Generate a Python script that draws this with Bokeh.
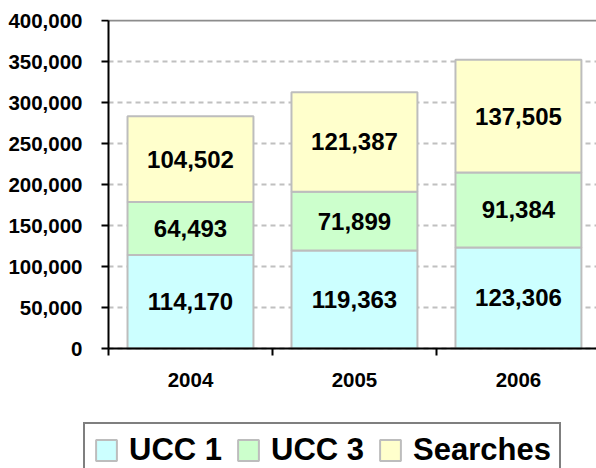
from bokeh.plotting import figure
from bokeh.models import (Range1d, FixedTicker, NumeralTickFormatter, Grid, Legend,
                          LegendItem, ColumnDataSource, LinearAxis)
from bokeh.core.properties import value
from bokeh.embed import file_html
from bokeh.resources import INLINE

# ---- data ----
years = ["2004", "2005", "2006"]
ucc1 = [114170, 119363, 123306]
ucc3 = [64493, 71899, 91384]
searches = [104502, 121387, 137505]
series_names = ["UCC 1", "UCC 3", "Searches"]
colors = ["#CCFFFF", "#CCFFCC", "#FFFFCC"]
y_ticks = [0, 50000, 100000, 150000, 200000, 250000, 300000, 350000, 400000]

FONT = "Liberation Sans"
EDGE = "#BDBDBD"
xpos = [i + 0.5 for i in range(len(years))]
X_END = 2.976
Y_TOP = 400000

# frame covers the canvas down to the bottom so the legend box can be cut off there
p = figure(width=596, height=468, output_backend="svg", toolbar_location=None,
           x_range=Range1d(-0.1524, X_END), y_range=Range1d(-146341, 401220),
           y_axis_location=None,
           min_border_left=83, min_border_right=0, min_border_top=19,
           min_border_bottom=0)
p.outline_line_color = None
p.background_fill_color = "white"
p.border_fill_color = "white"

src = ColumnDataSource(dict(x=xpos, ucc1=ucc1, ucc3=ucc3, searches=searches))
keys = ["ucc1", "ucc3", "searches"]
renderers = p.vbar_stack(keys, x="x", width=0.768, source=src, color=colors,
                         line_color=EDGE, line_width=2)

# data labels at the centre of each segment
lx, ly, lt = [], [], []
for i in range(len(years)):
    base = 0
    for vals in (ucc1, ucc3, searches):
        v = vals[i]
        lx.append(xpos[i]); ly.append(base + v / 2); lt.append(f"{v:,}")
        base += v
p.text(x=lx, y=ly, text=lt, text_align="center", text_baseline="middle",
       text_font=value(FONT), text_font_style="bold", text_font_size="24px",
       text_color="black")

# grid
p.xgrid.visible = False
p.ygrid.ticker = FixedTicker(ticks=y_ticks[:-1])
p.ygrid.grid_line_color = "#C0C0C0"
p.ygrid.grid_line_width = 2
p.ygrid.grid_line_dash = "5 4"
p.ygrid.cross_bounds = (0, X_END)
top_line = Grid(dimension=1, ticker=FixedTicker(ticks=[Y_TOP]), grid_line_color="#8C8C8C",
                grid_line_width=2, cross_bounds=(0, X_END))
p.add_layout(top_line)

# y axis: labels in the left panel, line and ticks at x = 0
ylab = LinearAxis(ticker=FixedTicker(ticks=y_ticks),
                  formatter=NumeralTickFormatter(format="0,0"),
                  axis_line_color=None, major_tick_line_color=None,
                  minor_tick_line_color=None, major_tick_out=0, major_tick_in=0,
                  major_label_standoff=1, major_label_text_font=FONT,
                  major_label_text_font_style="bold", major_label_text_font_size="20.5px",
                  major_label_text_color="black")
p.add_layout(ylab, "left")

yline = LinearAxis(ticker=FixedTicker(ticks=y_ticks), fixed_location=0, bounds=(0, Y_TOP),
                   axis_line_color="black", axis_line_width=2,
                   major_tick_line_color="black", major_tick_line_width=2,
                   major_tick_out=7, major_tick_in=0, minor_tick_line_color=None,
                   major_label_text_font_size="0px", major_label_text_alpha=0)
p.add_layout(yline, "left")

# x axis
xa = p.xaxis[0]
xa.fixed_location = 0
xa.bounds = (0, X_END)
xa.ticker = FixedTicker(ticks=xpos, minor_ticks=[0, 1, 2, 3])
xa.major_label_overrides = {xpos[i]: years[i] for i in range(len(years))}
xa.axis_line_color = "black"; xa.axis_line_width = 2
xa.major_tick_out = 0; xa.major_tick_in = 0
xa.minor_tick_line_color = "black"; xa.minor_tick_line_width = 2
xa.minor_tick_out = 7; xa.minor_tick_in = 0
xa.major_label_standoff = 17
xa.major_label_text_font = FONT
xa.major_label_text_font_style = "bold"
xa.major_label_text_font_size = "20.5px"
xa.major_label_text_color = "black"

# legend (bottom edge falls outside the picture, as in the original)
items = [LegendItem(label=series_names[i], renderers=[renderers[i]]) for i in range(3)]
legend = Legend(items=items, orientation="horizontal", location=(0, -10),
                border_line_color="black", border_line_width=2,
                padding=8, spacing=13, margin=0, label_standoff=10,
                glyph_width=26, glyph_height=26,
                label_text_font=FONT, label_text_font_style="bold",
                label_text_font_size="31px", label_text_color="black",
                background_fill_color="white", background_fill_alpha=1)
p.add_layout(legend, "center")

open("out.html", "w").write(file_html(p, INLINE))
